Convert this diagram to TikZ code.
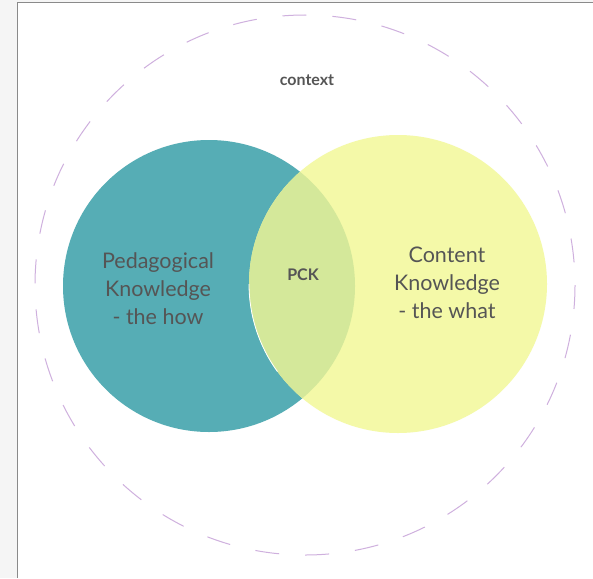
\documentclass[tikz,border=0pt]{standalone}
\usepackage{fontspec}
\setmainfont{Lato}
\usetikzlibrary{positioning}
\definecolor{pedteal}{HTML}{56ADB5}
\definecolor{conyellow}{HTML}{F4F9A8}
\definecolor{pckgreen}{HTML}{D4E89A}
\definecolor{ctxlilac}{HTML}{CFB0DE}
\definecolor{labelgray}{HTML}{555555}
\definecolor{framegray}{HTML}{8A8A8A}

\begin{document}
\begin{tikzpicture}[x=1pt,y=-1pt,
  bigtext/.style={font=\fontsize{21.5}{28}\selectfont, text=labelgray, align=center},
  smalltext/.style={font=\fontsize{16}{18}\selectfont\bfseries, text=labelgray}]
% Page and frame
\useasboundingbox (0,0) rectangle (593,578);
\fill[gray!8] (0,0) rectangle (593,578);
\fill[white] (17,3) rectangle (593,578);
\draw[framegray, line width=1pt] (17,578) -- (17,3) -- (593,3);
% Centres of the circles
\coordinate (ctx) at (305,285);
\coordinate (ped) at (209,286);
\coordinate (con) at (398,284);
% Context ring
\draw[ctxlilac, line width=1pt, dash pattern=on 24pt off 26pt] (ctx) circle (270);
% The two knowledge circles
\fill[pedteal] (ped) circle (146);
\fill[conyellow] (con) circle (149);
\begin{scope}
  \clip (ped) circle (146);
  \fill[pckgreen] (con) circle (149);
\end{scope}
\draw[white, line width=0.8pt] (249,284) arc[start angle=180, end angle={180-36}, radius=149];
% Labels
\node[smalltext] (context) at (307,80) {context};
\node[smalltext] (pck) at (303,275) {PCK};
\node[bigtext] (pedlabel) at (158,289) {Pedagogical\\Knowledge\\- the how};
\node[bigtext] (conlabel) at (447,283) {Content\\Knowledge\\- the what};
\end{tikzpicture}
\end{document}
